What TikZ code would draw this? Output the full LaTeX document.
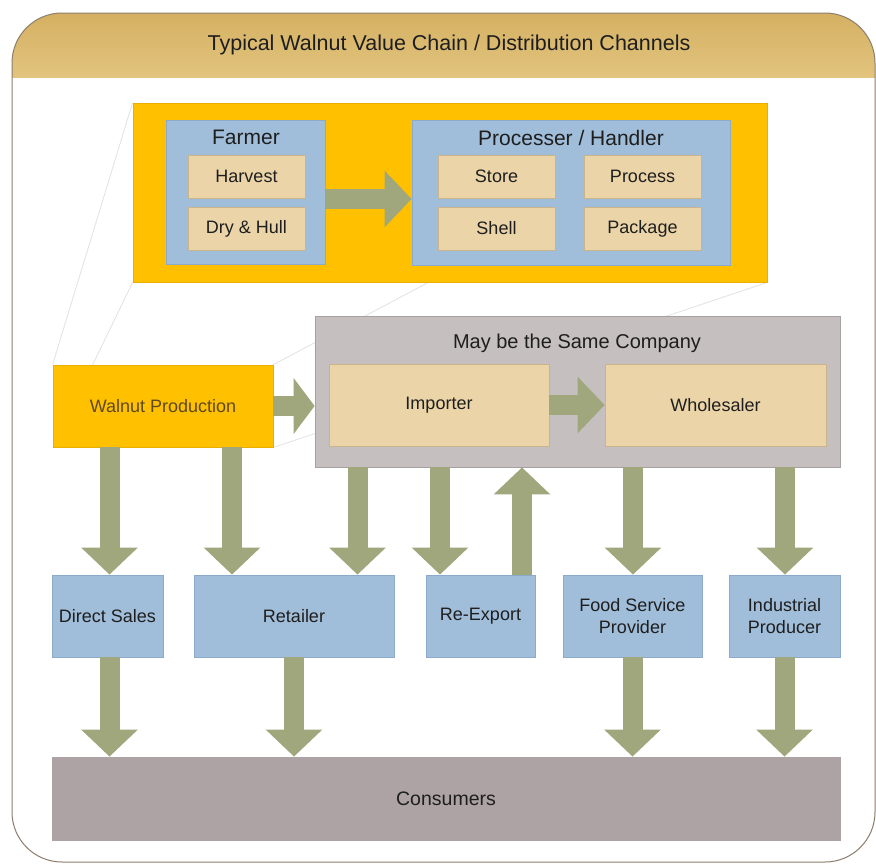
\documentclass[tikz,border=0pt]{standalone}
\usepackage{fontspec}
\setmainfont{Liberation Sans}
\usetikzlibrary{arrows.meta,calc}
\pgfdeclarelayer{framelayer}
\pgfdeclarelayer{linelayer}
\pgfsetlayers{framelayer,linelayer,main}
\definecolor{goldtop}{HTML}{D4B062}
\definecolor{goldbot}{HTML}{E2C47E}
\definecolor{framec}{HTML}{8C7D6E}
\definecolor{yell}{HTML}{FFC000}
\definecolor{yellb}{HTML}{E8AE00}
\definecolor{bluec}{HTML}{A0BEDA}
\definecolor{blueb}{HTML}{8CAACA}
\definecolor{tanc}{HTML}{EBD5A8}
\definecolor{tanb}{HTML}{C9B48C}
\definecolor{grayc}{HTML}{C5BFBF}
\definecolor{grayb}{HTML}{A8A1A1}
\definecolor{consc}{HTML}{ADA3A4}
\definecolor{arrowc}{HTML}{A0A77D}
\definecolor{callc}{HTML}{E2E2E2}
\definecolor{txt}{HTML}{1E1E1E}
\definecolor{wptxt}{HTML}{5E4A1E}
\tikzset{
  box/.style={inner sep=0pt, align=center, text=txt, font=\fontsize{18}{22}\selectfont},
  yellbox/.style={box, fill=yell, draw=yellb, line width=0.8pt},
  bluebox/.style={box, fill=bluec, draw=blueb, line width=0.8pt},
  tanbox/.style={box, fill=tanc, draw=tanb, line width=0.8pt},
  graybox/.style={box, fill=grayc, draw=grayb, line width=0.8pt},
  consbox/.style={box, fill=consc, draw=consc, line width=0.8pt, font=\fontsize{19.5}{23}\selectfont},
  titletext/.style={inner sep=0pt, text=txt, font=\fontsize{21}{25}\selectfont},
  fat/.style={draw=arrowc, line width=20pt, -{Triangle[width=55pt,length=27pt]}},
  fatshort/.style={draw=arrowc, line width=20pt, -{Triangle[width=55pt,length=21pt]}},
  callout/.style={draw=callc, line width=0.8pt},
}
\begin{document}
\begin{tikzpicture}[x=1pt,y=-1pt]
\useasboundingbox (0,0) rectangle (876,865);
% frame
\begin{pgfonlayer}{framelayer}
\fill[white] (0,0) rectangle (876,865);
\begin{scope}
\clip[rounded corners=50pt] (12,13) rectangle (875,862);
\fill[white] (12,13) rectangle (875,862);
\shade[top color=goldtop, bottom color=goldbot] (12,13) rectangle (875,77);
\end{scope}
\draw[framec, line width=1pt, rounded corners=50pt] (12,13) rectangle (875,862);
\end{pgfonlayer}
\node[titletext, font=\fontsize{21.5}{25}\selectfont] (title) at (449,45) {Typical Walnut Value Chain / Distribution Channels};

% top zoom box
\node[yellbox, minimum width=634pt, minimum height=179pt] (zoom) at (450,192.5) {};
\node[bluebox, minimum width=159pt, minimum height=144pt] (farmer) at (245.5,192) {};
\node[titletext] (farmert) at (246,137) {Farmer};
\node[tanbox, minimum width=117pt, minimum height=43pt] (harvest) at (246.5,176.5) {Harvest};
\node[tanbox, minimum width=117pt, minimum height=43pt] (dry) at (246.5,228.5) {Dry \& Hull};
\node[bluebox, minimum width=318pt, minimum height=145pt] (proc) at (571,192.5) {};
\node[titletext] (proct) at (571,138) {Processer / Handler};
\node[tanbox, minimum width=117pt, minimum height=43pt] (store) at (496.5,176.5) {Store};
\node[tanbox, minimum width=117pt, minimum height=43pt] (process) at (642.5,176.5) {Process};
\node[tanbox, minimum width=117pt, minimum height=43pt] (shell) at (496.5,228.5) {Shell};
\node[tanbox, minimum width=117pt, minimum height=43pt] (package) at (642.5,228.5) {Package};
\coordinate (fp) at ($(farmer.east)+(0,7)$);
\draw[fat] (fp) -- (fp -| proc.west);

% middle row
\node[yellbox, minimum width=220pt, minimum height=82pt, text=wptxt] (wp) at (163,406) {Walnut Production};
\node[graybox, minimum width=525pt, minimum height=151pt] (gray) at (577.5,391.5) {};
\node[titletext, font=\fontsize{20}{24}\selectfont] (grayt) at (577,343) {May be the Same Company};
\node[tanbox, minimum width=220pt, minimum height=82pt] (imp) at (439,405) {Importer};
\node[tanbox, minimum width=221pt, minimum height=82pt] (whole) at (715.5,405) {Wholesaler};
\draw[fatshort] (wp.east) -- (wp.east -| gray.west);
\draw[fat] (imp.east) -- (whole.west);

% callout lines
\begin{pgfonlayer}{linelayer}
\draw[callout] (wp.north west) -- (zoom.north west);
\draw[callout] (wp.south west) -- (zoom.south west);
\draw[callout] (wp.north east) -- (zoom.north east);
\draw[callout] (wp.south east) -- (zoom.south east);
\end{pgfonlayer}

% channel row
\node[bluebox, minimum width=111pt, minimum height=82pt] (ds) at (107.5,616) {Direct Sales};
\node[bluebox, minimum width=200pt, minimum height=82pt] (ret) at (294,616) {Retailer};
\node[bluebox, minimum width=109pt, minimum height=82pt] (rex) at (480.5,616) {Re-Export};
\node[bluebox, minimum width=139pt, minimum height=82pt] (fsp) at (632.5,616) {Food Service\\Provider};
\node[bluebox, minimum width=111pt, minimum height=82pt] (ind) at (784.5,616) {Industrial\\Producer};
\node[consbox, minimum width=788pt, minimum height=83pt] (cons) at (446,798.5) {Consumers};

% arrows down to channels
\coordinate (a1) at ($(ds.north)+(2,0)$);
\coordinate (a2) at ($(ret.north)+(-62,0)$);
\coordinate (a3) at ($(ret.north)+(63.5,0)$);
\coordinate (a4) at ($(rex.north)+(-40.5,0)$);
\coordinate (a5) at ($(rex.north)+(41.5,0)$);
\coordinate (a6) at ($(fsp.north)+(0.5,0)$);
\coordinate (a7) at ($(ind.north)+(0.5,0)$);
\draw[fat] (a1 |- wp.south) -- (a1);
\draw[fat] (a2 |- wp.south) -- (a2);
\draw[fat] (a3 |- gray.south) -- (a3);
\draw[fat] (a4 |- gray.south) -- (a4);
\draw[fat] (a5) -- (a5 |- gray.south);
\draw[fat] (a6 |- gray.south) -- (a6);
\draw[fat] (a7 |- gray.south) -- (a7);

% arrows to consumers
\coordinate (b1) at ($(ds.south)+(2,0)$);
\draw[fat] (b1) -- (b1 |- cons.north);
\draw[fat] (ret.south) -- (ret.south |- cons.north);
\draw[fat] (fsp.south) -- (fsp.south |- cons.north);
\draw[fat] (ind.south) -- (ind.south |- cons.north);
\end{tikzpicture}
\end{document}
